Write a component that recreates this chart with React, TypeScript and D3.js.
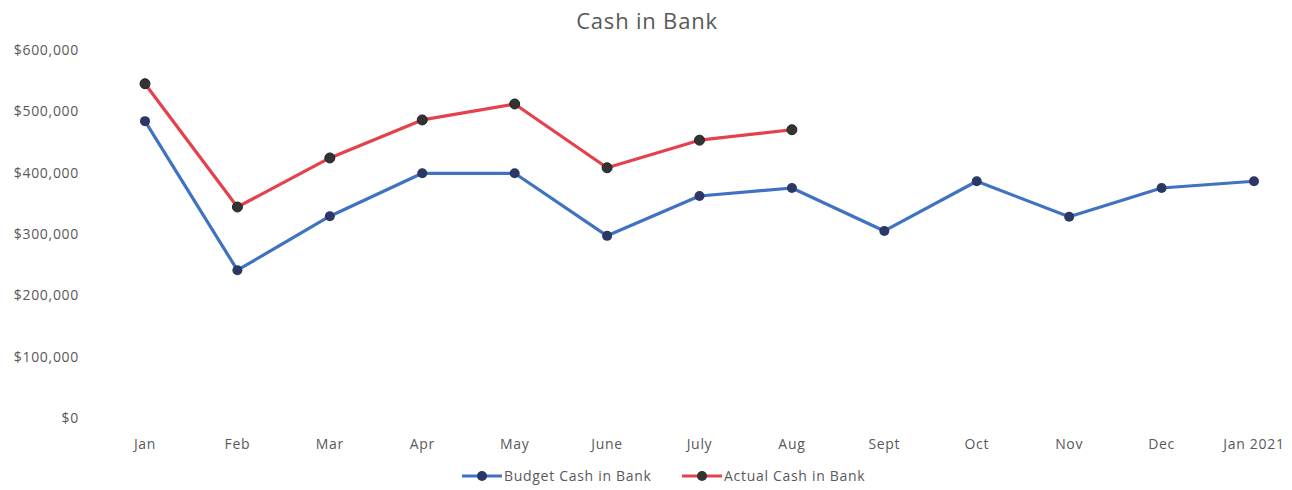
import React from 'react';
import * as d3 from 'd3';

const months = ['Jan', 'Feb', 'Mar', 'Apr', 'May', 'June', 'July', 'Aug', 'Sept', 'Oct', 'Nov', 'Dec', 'Jan 2021'];
const budget = [484000, 241000, 329000, 399000, 399000, 297000, 362000, 375000, 305000, 386000, 328000, 375000, 386000];
const actual = [545000, 344000, 424000, 486000, 512000, 408000, 453000, 470000];
const yTicks = [0, 100000, 200000, 300000, 400000, 500000, 600000];

const width = 1292;
const height = 490;
const font = '"Open Sans", "Noto Sans", sans-serif';
const textColor = '#595959';
const blue = '#3f72c0';
const red = '#e5414c';

export default function App() {
    const x = d3.scalePoint<string>().domain(months).range([145, 1254]);
    const y = d3.scaleLinear([0, 600000], [418, 50]);
    const fmt = (v: number) => '$' + d3.format(',')(v);

    const line = d3.line<number>((d, i) => x(months[i]) as number, (d) => y(d));

    return (
        <svg width={width} height={height} style={{ position: 'absolute', left: 0, top: 0 }}>
            <rect width={width} height={height} fill="#fff" />
            <text x={647} y={29} textAnchor="middle" fontFamily={font} fontSize={22} letterSpacing={0.8} fill={textColor}>
                Cash in Bank
            </text>
            <g fontFamily={font} fontSize={14} letterSpacing={0.7} fill={textColor}>
                {yTicks.map((t) => (
                    <text key={t} x={79} y={y(t) + 5} textAnchor="end">{fmt(t)}</text>
                ))}
                {months.map((m) => (
                    <text key={m} x={x(m)} y={449} textAnchor="middle">{m}</text>
                ))}
            </g>
            <path d={line(budget) || ''} fill="none" stroke={blue} strokeWidth={3.2} strokeLinejoin="round" />
            <path d={line(actual) || ''} fill="none" stroke={red} strokeWidth={3.2} strokeLinejoin="round" />
            <g fill="#2c3766">
                {budget.map((d, i) => (
                    <circle key={i} cx={x(months[i])} cy={y(d)} r={5} />
                ))}
            </g>
            <g fill="#333" stroke="#222" strokeWidth={1}>
                {actual.map((d, i) => (
                    <circle key={i} cx={x(months[i])} cy={y(d)} r={5} />
                ))}
            </g>
            <g fontFamily={font} fontSize={14} letterSpacing={0.7} fill={textColor}>
                <line x1={462} x2={502} y1={476} y2={476} stroke={blue} strokeWidth={3.2} />
                <circle cx={482} cy={476} r={5} fill="#2c3766" />
                <text x={504} y={481}>Budget Cash in Bank</text>
                <line x1={682} x2={722} y1={476} y2={476} stroke={red} strokeWidth={3.2} />
                <circle cx={702} cy={476} r={5} fill="#333" />
                <text x={724} y={481}>Actual Cash in Bank</text>
            </g>
        </svg>
    );
}
